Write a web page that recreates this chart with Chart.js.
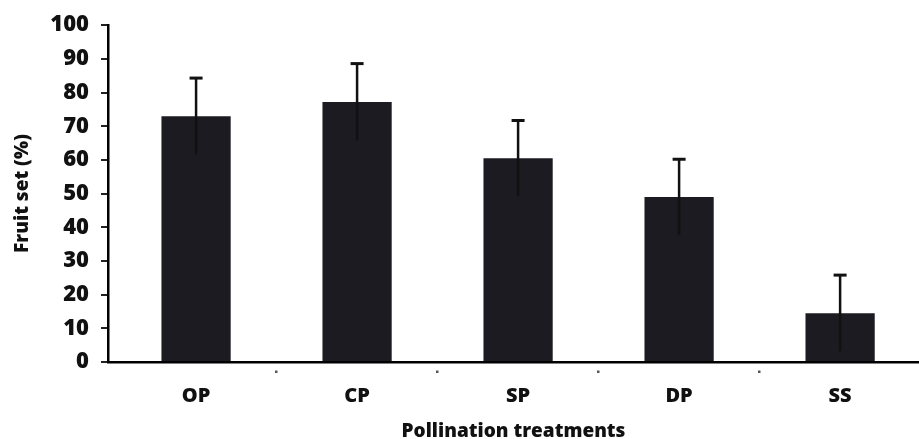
<!DOCTYPE html>
<html>
<head>
<meta charset="utf-8">
<script src="https://cdn.jsdelivr.net/npm/chart.js@4/dist/chart.umd.min.js"></script>
<style>
html,body{margin:0;padding:0;background:#fff;}
#wrap{width:919px;height:439px;position:relative;}
</style>
</head>
<body>
<div id="wrap"><canvas id="c" width="919" height="439"></canvas></div>
<script>
const categories = ['OP', 'CP', 'SP', 'DP', 'SS'];
const fruitSet = [73, 77.2, 60.5, 49, 14.5];
const fruitSetErr = [11.3, 11.4, 11.2, 11.2, 11.3];
const yTicks = [0, 10, 20, 30, 40, 50, 60, 70, 80, 90, 100];

const errorBars = {
  id: 'errorBars',
  afterDatasetsDraw(chart) {
    const ctx = chart.ctx;
    const meta = chart.getDatasetMeta(0);
    const y = chart.scales.y;
    ctx.save();
    ctx.strokeStyle = '#111';
    meta.data.forEach((bar, i) => {
      const v = fruitSet[i], e = fruitSetErr[i];
      const yt = y.getPixelForValue(v + e);
      const yb = y.getPixelForValue(v - e);
      ctx.lineWidth = 2.5;
      ctx.beginPath();
      ctx.moveTo(bar.x, yb);
      ctx.lineTo(bar.x, yt);
      ctx.stroke();
      ctx.lineWidth = 3;
      ctx.beginPath();
      ctx.moveTo(bar.x - 6.5, yt);
      ctx.lineTo(bar.x + 6.5, yt);
      ctx.stroke();
    });
    ctx.restore();
  }
};

const FONT = 'Open Sans';

new Chart(document.getElementById('c'), {
  type: 'bar',
  data: {
    datasets: [{
      data: categories.map((c, i) => ({ x: i, y: fruitSet[i] })),
      backgroundColor: '#1c1b21',
      borderWidth: 0,
      barPercentage: 0.86,
      categoryPercentage: 0.5
    }]
  },
  options: {
    responsive: false,
    animation: false,
    devicePixelRatio: 1,
    layout: { padding: { top: 25, right: 0, left: 0, bottom: 0 } },
    plugins: { legend: { display: false }, tooltip: { enabled: false } },
    scales: {
      y: {
        min: 0, max: 100,
        afterBuildTicks(scale) { scale.ticks = yTicks.map(v => ({ value: v })); },
        afterFit(scale) { scale.width = 108; },
        grid: { display: true, drawOnChartArea: false, tickLength: 7, color: '#222', lineWidth: 2 },
        border: { display: true, color: '#000', width: 2.5 },
        ticks: { color: '#111', padding: 12, font: { family: FONT, weight: '800', size: 22 } },
        title: { display: true, text: 'Fruit set (%)', color: '#111', padding: { top: 11, bottom: 0 }, font: { family: FONT, weight: '800', size: 19 } }
      },
      x: {
        type: 'linear',
        offset: false,
        min: -0.547, max: 4.49,
        afterBuildTicks(scale) { scale.ticks = categories.map((c, i) => ({ value: i })); },
        afterFit(scale) { scale.height = 77; },
        grid: {
          display: true, drawOnChartArea: false, offset: true, tickLength: 11,
          color: (ctx) => ctx.index === 0 ? 'rgba(0,0,0,0)' : '#555',
          lineWidth: 2.5, tickBorderDash: [0, 7, 3, 100]
        },
        border: { display: true, color: '#000', width: 2.5 },
        ticks: {
          color: '#111', padding: 11, autoSkip: false, maxRotation: 0,
          font: { family: FONT, weight: '800', size: 20 },
          callback: (v) => categories[v] !== undefined ? categories[v] : ''
        },
        title: { display: true, text: 'Pollination treatments', color: '#111', padding: { top: 11, bottom: -4 }, font: { family: FONT, weight: '800', size: 19 } }
      }
    }
  },
  plugins: [errorBars]
});
</script>
</body>
</html>
